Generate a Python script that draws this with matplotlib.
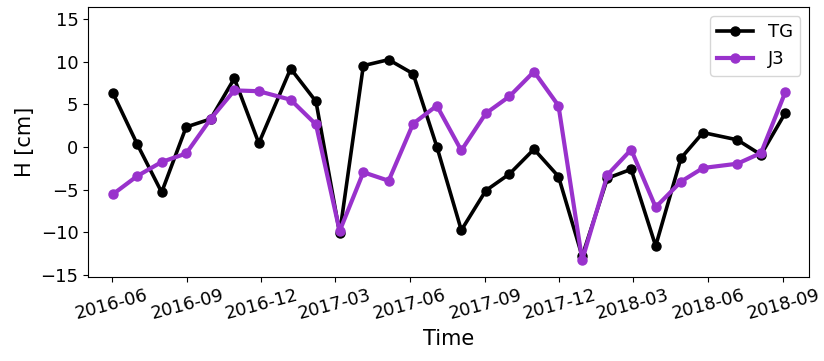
import pandas as pd
import numpy as np
import matplotlib.pyplot as plt
import matplotlib.dates as mdates

dates = ['2016-06-02', '2016-07-02', '2016-08-01', '2016-08-31', '2016-09-30',
         '2016-10-29', '2016-11-28', '2017-01-06', '2017-02-06', '2017-03-07',
         '2017-04-05', '2017-05-06', '2017-06-05', '2017-07-04', '2017-08-03',
         '2017-09-02', '2017-10-01', '2017-10-31', '2017-11-30', '2017-12-29',
         '2018-01-29', '2018-02-27', '2018-03-29', '2018-04-29', '2018-05-26',
         '2018-07-07', '2018-08-05', '2018-09-04']

tg = [6.4, 0.35, -5.3, 2.35, 3.3, 8.05, 0.45, 9.2, 5.35, -10.1,
      9.55, 10.25, 8.6, 0.05, -9.75, -5.1, -3.15, -0.25, -3.45, -12.8,
      -3.65, -2.6, -11.6, -1.3, 1.7, 0.85, -0.9, 4.05]

j3 = [-5.55, -3.4, -1.75, -0.75, 3.3, 6.65, 6.55, 5.55, 2.65, -9.85,
      -2.95, -3.95, 2.75, 4.85, -0.4, 3.95, 5.95, 8.85, 4.85, -13.25,
      -3.25, -0.3, -7.05, -4.05, -2.45, -1.95, -0.7, 6.5]

t = pd.to_datetime(dates)

fig = plt.figure(figsize=(8.24, 3.61), dpi=100)
ax = fig.add_axes([0.107, 0.2335, 0.875, 0.7465])

ax.plot(t, tg, color='black', lw=2.6, marker='o', ms=6.5, label='TG')
ax.plot(t, j3, color='darkorchid', lw=3.0, marker='o', ms=6.5, label='J3')

ax.set_xlim(pd.Timestamp('2016-05-03'), pd.Timestamp('2018-10-03'))
ax.set_ylim(-15.2, 16.4)
ax.set_yticks([-15, -10, -5, 0, 5, 10, 15])
ax.xaxis.set_major_locator(mdates.MonthLocator(bymonth=[3, 6, 9, 12]))
ax.xaxis.set_major_formatter(mdates.DateFormatter('%Y-%m'))
ax.tick_params(labelsize=13)
plt.setp(ax.get_xticklabels(), rotation=15)

ax.set_xlabel('Time', fontsize=15)
ax.set_ylabel('H [cm]', fontsize=15)
ax.legend(loc='upper right', fontsize=13)

fig.savefig('out.png', dpi=100)
